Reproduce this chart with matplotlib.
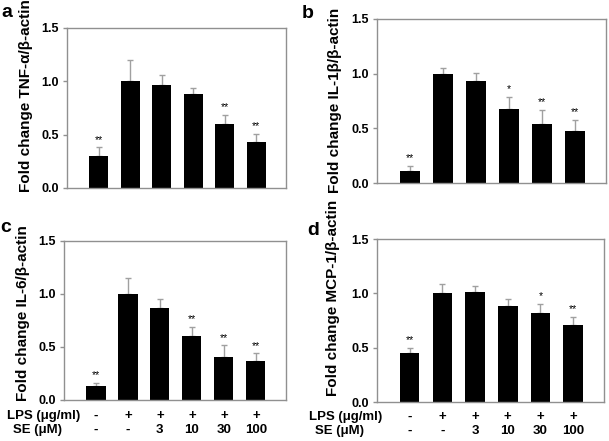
import matplotlib
matplotlib.use('Agg')
import matplotlib.pyplot as plt
import matplotlib.transforms as mtrans
import numpy as np

plt.rcParams['font.family'] = ['Liberation Sans', 'DejaVu Sans']

# 6 groups: control, LPS, LPS+SE 3/10/30/100
lps_row = ['-', '+', '+', '+', '+', '+']
se_row = ['-', '-', '3', '10', '30', '100']

tnf_mean = [0.30, 1.00, 0.96, 0.875, 0.60, 0.43]
tnf_err = [0.08, 0.20, 0.095, 0.06, 0.085, 0.075]
tnf_sig = ['**', '', '', '', '**', '**']

il1_mean = [0.113, 1.00, 0.93, 0.675, 0.538, 0.474]
il1_err = [0.043, 0.055, 0.075, 0.11, 0.13, 0.105]
il1_sig = ['**', '', '', '*', '**', '**']

il6_mean = [0.132, 1.00, 0.863, 0.602, 0.405, 0.364]
il6_err = [0.03, 0.145, 0.085, 0.09, 0.11, 0.075]
il6_sig = ['**', '', '', '**', '**', '**']

mcp_mean = [0.455, 1.00, 1.01, 0.888, 0.824, 0.707]
mcp_err = [0.045, 0.083, 0.062, 0.064, 0.08, 0.08]
mcp_sig = ['**', '', '', '', '*', '**']

fig = plt.figure(figsize=(6.09, 4.41), dpi=100)


def draw_panel(rect, mean, err, sig, ylabel, letter, letter_xy, label_xy, rows=None):
    ax = fig.add_axes(rect)
    x = np.arange(len(mean))
    ax.bar(x, mean, width=0.6, color='black', zorder=2)
    ax.errorbar(x, mean, yerr=[np.zeros(len(err)), err], fmt='none',
                ecolor='#a0a0a0', elinewidth=1, capsize=2.5, capthick=1, zorder=1)
    for xi, m, e, s in zip(x, mean, err, sig):
        if s:
            ax.text(xi, m + e + 0.025, s, ha='center', va='bottom', fontsize=7.5)
    ax.set_xlim(-1.0, 5.95)
    ax.set_ylim(0, 1.5)
    ax.set_yticks([0.0, 0.5, 1.0, 1.5])
    ax.set_yticklabels(['0.0', '0.5', '1.0', '1.5'], fontweight='bold', fontsize=9)
    ax.set_xticks([])
    for sp in ax.spines.values():
        sp.set_color('#909090')
        sp.set_linewidth(1)
    ax.tick_params(axis='y', direction='out', length=3, width=1, color='#909090', pad=3)
    ax.set_ylabel(ylabel, fontweight='bold', fontsize=11)
    ax.yaxis.set_label_coords(*label_xy)
    fig.text(letter_xy[0], letter_xy[1], letter, fontweight='bold', fontsize=14,
             ha='left', va='baseline')
    if rows is not None:
        # rows = (lps label x, se label x, lps row y, se row y) in figure fractions
        lx, sx, ly, sy = rows
        fig.text(lx, ly, 'LPS (\u03bcg/ml)', ha='left', va='center',
                 fontweight='bold', fontsize=9.5)
        fig.text(sx, sy, 'SE (\u03bcM)', ha='left', va='center',
                 fontweight='bold', fontsize=9.5)
        tr = mtrans.blended_transform_factory(ax.transData, fig.transFigure)
        for xi, a, b in zip(x, lps_row, se_row):
            ax.text(xi, ly, a, transform=tr, ha='center', va='center',
                    fontweight='bold', fontsize=9.5, clip_on=False)
            ax.text(xi, sy, b, transform=tr, ha='center', va='center',
                    fontweight='bold', fontsize=9.5, clip_on=False)
    return ax


draw_panel([0.110, 0.574, 0.360, 0.363], tnf_mean, tnf_err, tnf_sig,
           'Fold change TNF-\u03b1/\u03b2-actin', 'a', (0.003, 0.962), (-0.155, 0.575))
draw_panel([0.619, 0.585, 0.376, 0.372], il1_mean, il1_err, il1_sig,
           'Fold change IL-1\u03b2/\u03b2-actin', 'b', (0.496, 0.959), (-0.153, 0.506))
draw_panel([0.105, 0.093, 0.365, 0.361], il6_mean, il6_err, il6_sig,
           'Fold change IL-6/\u03b2-actin', 'c', (0.0, 0.474), (-0.153, 0.547),
           rows=(7 / 609, 13 / 609, 1 - 416 / 441, 1 - 430 / 441))
draw_panel([0.619, 0.088, 0.373, 0.370], mcp_mean, mcp_err, mcp_sig,
           'Fold change MCP-1/\u03b2-actin', 'd', (0.505, 0.467), (-0.163, 0.638),
           rows=(309 / 609, 315 / 609, 1 - 417 / 441, 1 - 431 / 441))

plt.savefig('out.png', dpi=100)
plt.close()
